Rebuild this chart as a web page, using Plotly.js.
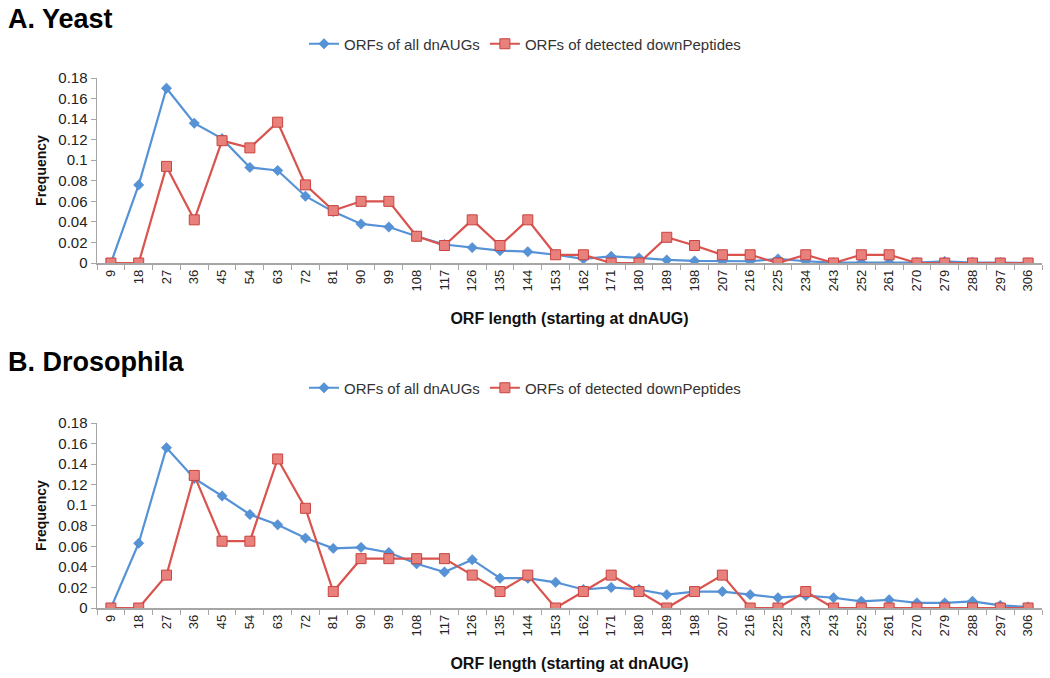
<!DOCTYPE html>
<html>
<head>
<meta charset="utf-8">
<script src="https://cdn.plot.ly/plotly-3.0.1.min.js"></script>
<style>html,body{margin:0;padding:0;background:#fff;}#chart{width:1050px;height:678px;}</style>
</head>
<body>
<div id="chart"></div>
<script>
// ORF length categories
const orfLengths = ["9","18","27","36","45","54","63","72","81","90","99","108","117","126","135","144","153","162","171","180","189","198","207","216","225","234","243","252","261","270","279","288","297","306"];

// A. Yeast
const yeastAll = [0, 0.076, 0.170, 0.136, 0.121, 0.093, 0.090, 0.065, 0.050, 0.038, 0.035, 0.026, 0.018, 0.015, 0.012, 0.011, 0.008, 0.004, 0.0065, 0.005, 0.003, 0.002, 0.0017, 0.0017, 0.004, 0.0017, 0.0003, 0.0005, 0.0005, 0.0005, 0.0015, 0.0005, 0.0003, 0.0002];
const yeastDetected = [0, 0, 0.094, 0.042, 0.119, 0.112, 0.137, 0.076, 0.051, 0.060, 0.060, 0.026, 0.017, 0.042, 0.017, 0.042, 0.008, 0.008, 0, 0, 0.025, 0.017, 0.008, 0.008, 0, 0.008, 0, 0.008, 0.008, 0, 0, 0, 0, 0];

// B. Drosophila
const flyAll = [0, 0.063, 0.156, 0.126, 0.109, 0.091, 0.081, 0.068, 0.058, 0.059, 0.054, 0.043, 0.035, 0.047, 0.029, 0.029, 0.025, 0.018, 0.020, 0.018, 0.013, 0.016, 0.016, 0.013, 0.010, 0.012, 0.010, 0.0065, 0.008, 0.005, 0.005, 0.0065, 0.0026, 0.001];
const flyDetected = [0, 0, 0.032, 0.129, 0.065, 0.065, 0.145, 0.097, 0.016, 0.048, 0.048, 0.048, 0.048, 0.032, 0.016, 0.032, 0, 0.016, 0.032, 0.016, 0, 0.016, 0.032, 0, 0, 0.016, 0, 0, 0, 0, 0, 0, 0, 0];

const seriesNames = ["ORFs of all dnAUGs", "ORFs of detected downPeptides"];
const panelTitles = ["A. Yeast", "B. Drosophila"];
const xTitle = "ORF length (starting at dnAUG)";
const yTitle = "Frequency";

const blue = "#5592D6";
const red = "#D9534F";

function allTrace(y, xa, ya, leg) {
  return {x: orfLengths, y: y, type: "scatter", mode: "lines+markers", name: seriesNames[0],
    xaxis: xa, yaxis: ya, legend: leg,
    line: {color: blue, width: 2.2},
    marker: {symbol: "diamond", size: 8, color: blue, line: {color: "#4A86C8", width: 0.5}}};
}
function detTrace(y, xa, ya, leg) {
  return {x: orfLengths, y: y, type: "scatter", mode: "lines+markers", name: seriesNames[1],
    xaxis: xa, yaxis: ya, legend: leg,
    line: {color: red, width: 2.2},
    marker: {symbol: "square", size: 10, color: "#E8807C", line: {color: "#C9433F", width: 1}}};
}

const data = [
  allTrace(yeastAll, "x", "y", "legend"),
  detTrace(yeastDetected, "x", "y", "legend"),
  allTrace(flyAll, "x2", "y2", "legend2"),
  detTrace(flyDetected, "x2", "y2", "legend2")
];

const font = {family: "Liberation Sans, Arial, sans-serif", color: "#222"};
function xaxis(anchor) {
  return {domain: [97/1050, 1042/1050], anchor: anchor, type: "category",
    range: [-0.5, 33.5], tickangle: -90, tickson: "boundaries", ticks: "outside",
    ticklen: 5, tickcolor: "#A6A6A6", showline: true, linecolor: "#A6A6A6", linewidth: 1.5,
    showgrid: false, zeroline: false, tickfont: {family: font.family, size: 13, color: "#222"},
    title: {text: xTitle, font: {family: font.family, size: 16, color: "#111", weight: "bold"}, standoff: 22}};
}
function yaxis(anchor, dom) {
  return {domain: dom, anchor: anchor, range: [0, 0.18], dtick: 0.02, tickformat: "",
    ticks: "outside", ticklen: 5, tickcolor: "#A6A6A6", showline: true, linecolor: "#A6A6A6", linewidth: 1.5,
    showgrid: false, zeroline: false, tickfont: {family: font.family, size: 15, color: "#222"},
    title: {text: yTitle, font: {family: font.family, size: 14, color: "#111", weight: "bold"}, standoff: 8}};
}

const layout = {
  width: 1050, height: 678,
  margin: {l: 0, r: 0, t: 0, b: 0},
  paper_bgcolor: "#fff", plot_bgcolor: "#fff",
  font: font,
  showlegend: true,
  xaxis: xaxis("y"),
  yaxis: yaxis("x", [1 - 263/678, 1 - 78/678]),
  xaxis2: xaxis("y2"),
  yaxis2: yaxis("x2", [1 - 608/678, 1 - 423/678]),
  legend: {orientation: "h", x: 0.5, xanchor: "center", y: 1 - 44/678, yanchor: "middle",
    font: {family: font.family, size: 15, color: "#333"}, bgcolor: "rgba(0,0,0,0)", itemwidth: 30},
  legend2: {orientation: "h", x: 0.5, xanchor: "center", y: 1 - 388/678, yanchor: "middle",
    font: {family: font.family, size: 15, color: "#333"}, bgcolor: "rgba(0,0,0,0)", itemwidth: 30},
  annotations: [
    {text: panelTitles[0], xref: "paper", yref: "paper", x: 6/1050, y: 1 - 19/678, xanchor: "left", yanchor: "middle",
      showarrow: false, font: {family: font.family, size: 27, color: "#000", weight: "bold"}},
    {text: panelTitles[1], xref: "paper", yref: "paper", x: 6/1050, y: 1 - 362/678, xanchor: "left", yanchor: "middle",
      showarrow: false, font: {family: font.family, size: 27, color: "#000", weight: "bold"}}
  ]
};

Plotly.newPlot("chart", data, layout, {displayModeBar: false, staticPlot: true});
</script>
</body>
</html>
